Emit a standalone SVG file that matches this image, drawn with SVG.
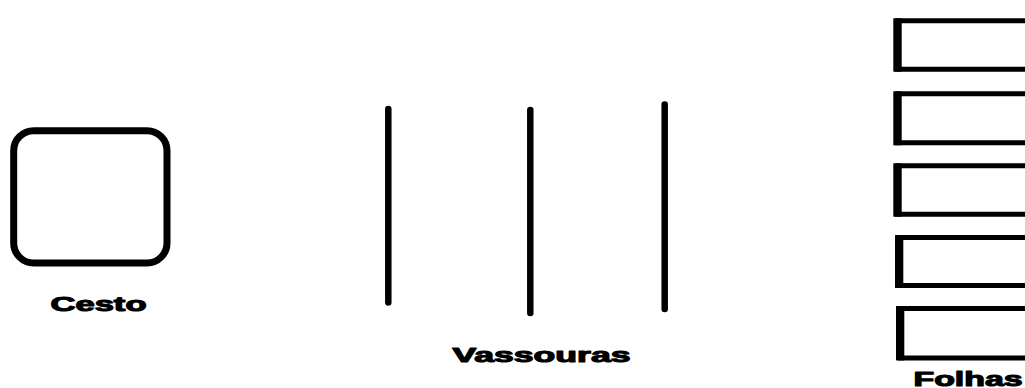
<svg xmlns="http://www.w3.org/2000/svg" width="1025" height="388" viewBox="0 0 1025 388">
<style>
.lbl{font-family:"Liberation Sans",Arial,sans-serif;font-weight:bold;font-size:20px;fill:#000;stroke:#000;stroke-width:1.1;stroke-linejoin:round}
.broom{stroke:#000;stroke-width:6.5;stroke-linecap:round;fill:none}
.leaf{stroke:#000;stroke-width:5;fill:none}
.edge{fill:#000}
</style>
<rect x="0" y="0" width="1025" height="388" fill="#fff"/>
<g id="cesto">
<rect x="13.7" y="130.7" width="153.3" height="132.3" rx="20" ry="20" fill="none" stroke="#000" stroke-width="7"/>
<text class="lbl" x="50.5" y="310.5" textLength="96" lengthAdjust="spacingAndGlyphs">Cesto</text>
</g>
<g id="vassouras">
<line class="broom" x1="388.3" y1="109" x2="388.3" y2="302.5"/>
<line class="broom" x1="530.3" y1="110" x2="530.3" y2="313"/>
<line class="broom" x1="664.7" y1="104.5" x2="664.7" y2="309"/>
<text class="lbl" x="452.5" y="361.5" textLength="178" lengthAdjust="spacingAndGlyphs">Vassouras</text>
</g>
<g id="folhas">
<path class="leaf" d="M1030 20.8H897.5V69.2H1030"/>
<rect class="edge" x="893.3" y="18.3" width="8.4" height="53.4"/>
<path class="leaf" d="M1030 93.8H897.5V142.8H1030"/>
<rect class="edge" x="893.3" y="91.3" width="8.4" height="54"/>
<path class="leaf" d="M1030 165.8H897.5V214.2H1030"/>
<rect class="edge" x="893.3" y="163.3" width="8.4" height="53.4"/>
<path class="leaf" d="M1030 237.5H899.2V285.5H1030"/>
<rect class="edge" x="895" y="235" width="8.3" height="53"/>
<path class="leaf" d="M1030 308.5H900.2V357.9H1030"/>
<rect class="edge" x="896" y="306" width="8.3" height="54.4"/>
<text class="lbl" x="913.5" y="386" textLength="109" lengthAdjust="spacingAndGlyphs">Folhas</text>
</g>
</svg>
